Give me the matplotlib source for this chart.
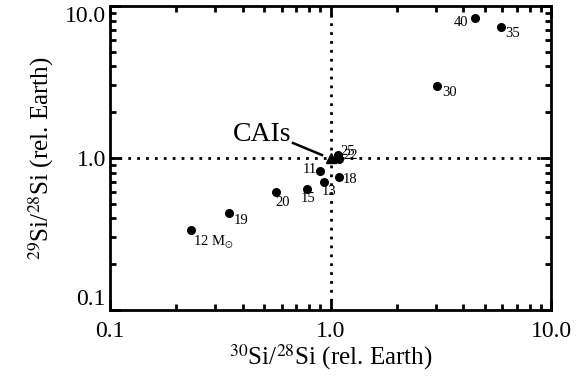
import matplotlib.pyplot as plt
from matplotlib.ticker import LogLocator, FixedLocator, NullFormatter

plt.rcParams['font.family'] = ['Liberation Serif', 'DejaVu Serif']
plt.rcParams['mathtext.fontset'] = 'stix'

# grain data: 30Si/28Si and 29Si/28Si relative to Earth, labelled by mass
labels = ["40", "35", "30", "25", "22", "11", "18", "13", "15", "20", "19", "12 M$_{\\odot}$"]
x_ratio = [4.52, 5.93, 3.04, 1.08, 1.09, 0.895, 1.09, 0.935, 0.78, 0.566, 0.347, 0.233]
y_ratio = [8.34, 7.28, 2.98, 1.04, 0.99, 0.82, 0.75, 0.695, 0.625, 0.597, 0.434, 0.336]
# label offsets in points (left edge, vertical centre)
offsets = [(-15, -3.5), (3, -5), (4, -4.5), (2, 2.5), (3.5, 2.5), (-12, 1), (3, -2),
           (-2, -7), (-4.3, -7), (-0.7, -7.5), (3, -5.4), (1.5, -9)]

cai_x, cai_y = 1.0, 1.0
cai_text = (0.49, 1.42)
cai_line_x = [0.676, 0.915]
cai_line_y = [1.255, 1.046]

tick_vals = [0.1, 1.0, 10.0]
tick_text = ["0.1", "1.0", "10.0"]


def main():
    fig = plt.figure(figsize=(5.77, 3.82), dpi=100)
    ax = fig.add_axes([110 / 577, 1 - 310 / 382, 441 / 577, 304 / 382])

    ax.axvline(1.0, color="black", linestyle=(0, (1, 2.2)), linewidth=2, zorder=1)
    ax.axhline(1.0, color="black", linestyle=(0, (1, 2.2)), linewidth=2, zorder=1)

    ax.plot(x_ratio, y_ratio, "o", color="black", markersize=5.5, zorder=3)
    for lab, x, y, off in zip(labels, x_ratio, y_ratio, offsets):
        ax.annotate(lab, (x, y), xytext=off, textcoords="offset points",
                    fontsize=10.5, ha="left", va="center")

    ax.plot([cai_x], [cai_y], "^", color="black", markersize=7, zorder=3)
    ax.plot(cai_line_x, cai_line_y, color="black", linewidth=1.8, zorder=3)
    ax.text(cai_text[0], cai_text[1], "CAIs", fontsize=20, ha="center", va="center")

    ax.set_xscale("log")
    ax.set_yscale("log")
    ax.set_xlim(0.1, 10)
    ax.set_ylim(0.1, 10)

    ax.xaxis.set_major_locator(FixedLocator(tick_vals))
    ax.yaxis.set_major_locator(FixedLocator(tick_vals))
    ax.set_xticklabels(tick_text)
    ax.set_yticklabels(tick_text)
    ax.xaxis.set_minor_locator(LogLocator(base=10, subs=range(2, 10)))
    ax.yaxis.set_minor_locator(LogLocator(base=10, subs=range(2, 10)))
    ax.xaxis.set_minor_formatter(NullFormatter())
    ax.yaxis.set_minor_formatter(NullFormatter())

    ax.tick_params(which="both", direction="in", top=True, right=True, width=2)
    ax.tick_params(which="major", length=8, labelsize=17)
    ax.tick_params(which="minor", length=4)
    ax.tick_params(axis="x", which="major", pad=8)
    ax.tick_params(axis="y", which="major", pad=3)
    for sp in ax.spines.values():
        sp.set_linewidth(2)

    # end labels on the y axis sit inside the axis range
    ylabs = ax.get_yticklabels()
    ylabs[0].set_va("bottom")
    ylabs[-1].set_va("top")

    ax.set_xlabel("$^{30}$Si/$^{28}$Si (rel. Earth)", fontsize=18, labelpad=0)
    ax.set_ylabel("$^{29}$Si/$^{28}$Si (rel. Earth)", fontsize=18, labelpad=6)

    fig.savefig("out.png", dpi=100)


if __name__ == "__main__":
    main()
